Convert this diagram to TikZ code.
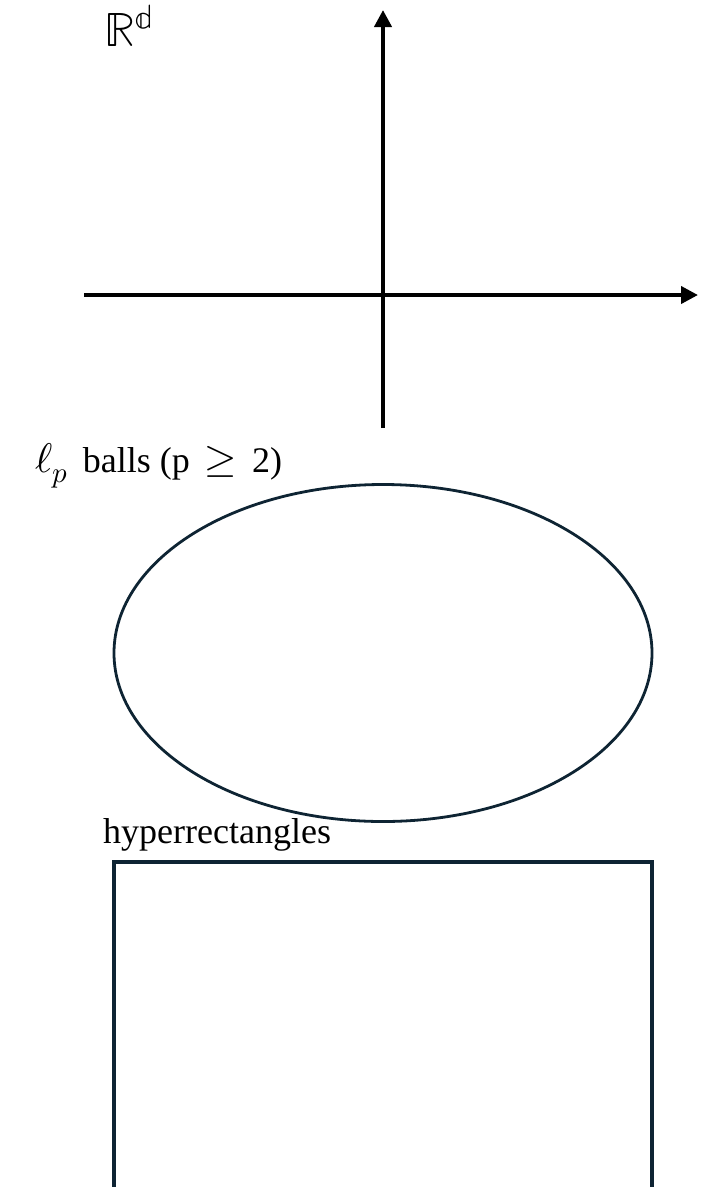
\documentclass[tikz,border=0pt]{standalone}
\usepackage{fontspec}
\usepackage{unicode-math}
\setmainfont{Liberation Serif}
\setmathfont{Latin Modern Math}[Scale=1.15]
\usetikzlibrary{arrows.meta,shapes.geometric}
\definecolor{navy}{HTML}{0E2433}

\begin{document}
\begin{tikzpicture}[
	x=1pt, y=-1pt,
	axis/.style={ line width=4pt, -{Triangle[length=17pt,width=17pt]} },
	outline/.style={ draw=navy, line width=2.8pt },
	caption/.style={ anchor=base west, inner sep=0pt, font=\fontsize{36}{40}\selectfont }
]
\useasboundingbox (0,0) rectangle (715,1187);

% axes
\coordinate (xl) at (84,295);
\coordinate (xr) at (698,295);
\coordinate (yb) at (383,428);
\coordinate (yt) at (383,10);
\draw[axis] (xl) -- (xr);
\draw[axis] (yb) -- (yt);
\node at (104,46) (space) [caption, font=\fontsize{42}{46}\selectfont] {$\mathbb{R}^{\mathbb{d}}$};

% ball
\node at (35,472) (balltext) [caption] {$\ell_{p}$\, balls (p \,$\geq$\, 2)};
\node at (383,653) (ball) [outline, ellipse, minimum width=538pt, minimum height=337pt, inner sep=0pt] {};

% box, open at the bottom
\node at (103,843) (boxtext) [caption] {hyperrectangles};
\coordinate (bl) at (114,1190);
\coordinate (tl) at (114,862);
\coordinate (tr) at (652,862);
\coordinate (br) at (652,1190);
\draw[outline, line width=3.5pt] (bl) -- (tl) -- (tr) -- (br);

\end{tikzpicture}
\end{document}
